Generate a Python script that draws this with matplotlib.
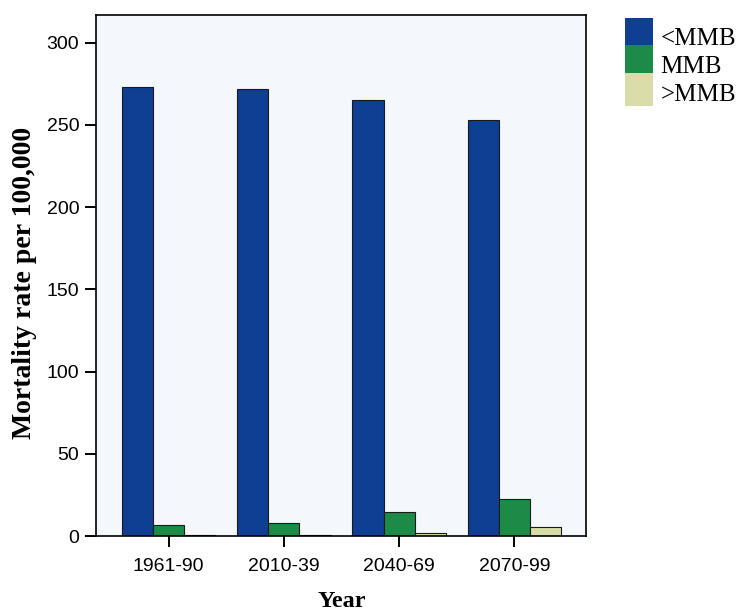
import numpy as np
import matplotlib.pyplot as plt
from matplotlib.patches import Patch, Rectangle
from matplotlib.legend_handler import HandlerPatch

periods = ["1961-90", "2010-39", "2040-69", "2070-99"]
below_mmb = [273, 272, 265, 253]
at_mmb = [7, 8, 14.5, 22.5]
above_mmb = [0.8, 0.5, 2, 5.5]
series_names = ["<MMB", "MMB", ">MMB"]
colors = ["#0E3F92", "#1B8B47", "#D9DBA8"]


def full_box(legend, orig_handle, xdescent, ydescent, width, height, fontsize):
    # fill the whole handle box so the swatches stack without gaps
    return Rectangle((-xdescent, -ydescent), width, height + ydescent)


fig = plt.figure(figsize=(7.38, 6.14), dpi=100)
ax = fig.add_axes([0.130, 0.127, 0.664, 0.849])
ax.set_facecolor("#F4F7FB")

x = np.arange(len(periods))
w = 0.27
for i, (vals, c) in enumerate(zip([below_mmb, at_mmb, above_mmb], colors)):
    ax.bar(x + (i - 1) * w, vals, width=w, color=c, edgecolor="#1a1a1a", linewidth=0.8)

ax.set_xlim(-0.63, 3.62)
ax.set_ylim(0, 317)
ax.set_yticks([0, 50, 100, 150, 200, 250, 300])
ax.set_xticks(x)
ax.set_xticklabels(periods)
ax.tick_params(direction="out", length=8, width=1.4, labelsize=14)
ax.tick_params(axis="x", pad=8)
ax.tick_params(axis="y", pad=4)
for lab in ax.get_xticklabels() + ax.get_yticklabels():
    lab.set_family("Liberation Sans")
for s in ax.spines.values():
    s.set_linewidth(1.2)

ax.set_xlabel("Year", family="Liberation Serif", fontweight="bold", fontsize=17.5)
ax.set_ylabel("Mortality rate per 100,000", family="Liberation Serif", fontweight="bold",
              fontsize=20)
ax.xaxis.set_label_coords(0.502, -0.106)
ax.yaxis.set_label_coords(-0.12, 0.485)

handles = [Patch(facecolor=c, edgecolor="none") for c in colors]
fig.legend(handles, series_names, loc="upper left", bbox_to_anchor=(0.847, 0.9625),
           frameon=False, prop={"family": "Liberation Serif", "size": 18},
           handlelength=1.12, handleheight=1.33, handletextpad=0.3, labelspacing=0.0,
           borderaxespad=0, borderpad=0,
           handler_map={Patch: HandlerPatch(patch_func=full_box)})

fig.savefig("out.png", dpi=100)
